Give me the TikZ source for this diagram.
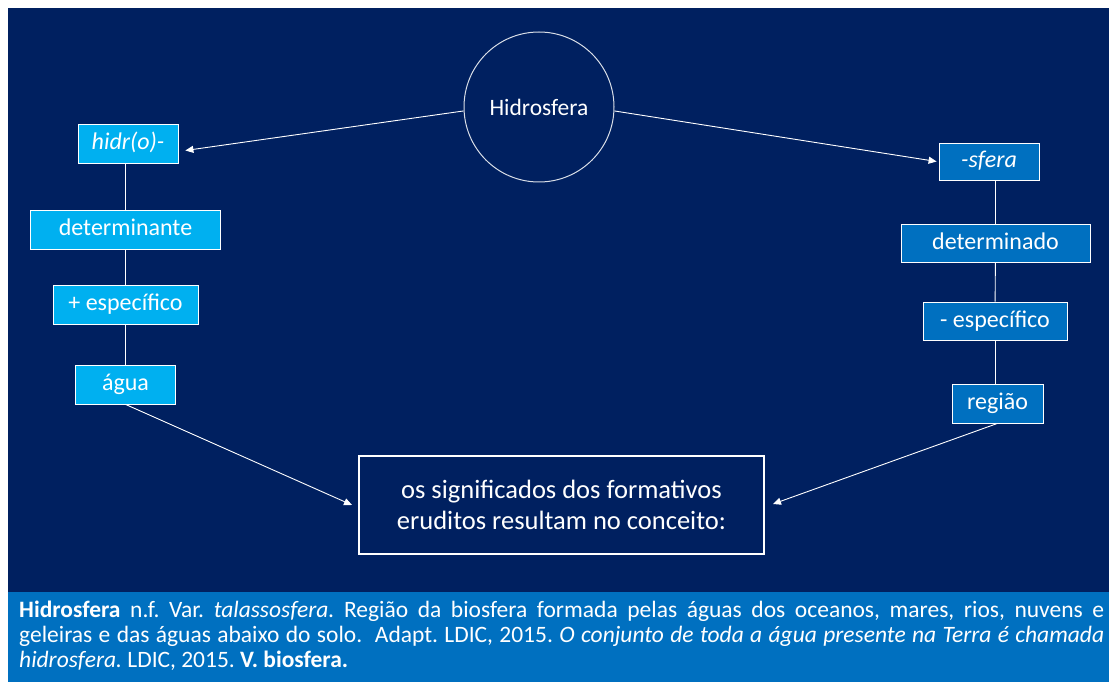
\documentclass[tikz,border=0pt]{standalone}
\usepackage{fontspec}
\setmainfont{Carlito}
\usetikzlibrary{arrows.meta}
\frenchspacing

\begin{document}
\begin{tikzpicture}[x=1pt, y=-1pt, every node/.style={text=white},
  lbox/.style={draw=white, line width=0.8pt, fill=lightblue, minimum height=39pt, inner sep=0pt,
    text height=17pt, text depth=5pt, font=\fontsize{24}{28}\selectfont},
  rbox/.style={lbox, fill=midblue},
  link/.style={white, line width=0.9pt},
  arr/.style={white, line width=0.9pt, -{Triangle[length=8pt, width=7pt]}},
  defline/.style={anchor=base west, inner sep=0pt, font=\fontsize{23.5}{25}\selectfont}]
% Define colors
\definecolor{navy}{RGB}{0,32,96}
\definecolor{lightblue}{RGB}{0,176,240}
\definecolor{midblue}{RGB}{0,112,192}

\useasboundingbox (0,0) rectangle (1109,682);
\fill[white] (0,0) rectangle (1109,682);
\fill[navy] (8,8) rectangle (1109,592);
\fill[midblue] (8,592) rectangle (1109,682);

% Circle
\node[circle, draw=white!85!navy, line width=1pt, minimum size=150pt, inner sep=0pt,
  font=\fontsize{23.5}{28}\selectfont] (circ) at (539,107) {Hidrosfera};

% Left column
\node[lbox, minimum width=100pt] (hidr) at (128,143.5) {\itshape hidr(o)-};
\node[lbox, minimum width=190pt] (detl) at (125.5,229.5) {determinante};
\node[lbox, minimum width=145pt] (espl) at (125.5,304.5) {+ específico};
\node[lbox, minimum width=100pt] (agua) at (125.5,384.5) {água};

% Right column
\node[rbox, minimum width=100pt, minimum height=37pt] (sfera) at (989,161.5) {\itshape -sfera};
\node[rbox, minimum width=189pt, minimum height=38pt] (detr) at (995.5,243) {determinado};
\node[rbox, minimum width=144pt, minimum height=38pt] (espr) at (995,321) {- específico};
\node[rbox, minimum width=91pt] (regiao) at (997.5,403.5) {região};

% Conclusion
\node[draw=white, line width=2pt, minimum width=405pt, minimum height=98pt, align=center,
  font=\fontsize{26.5}{31}\selectfont] (concl) at (561.5,505)
  {os significados dos formativos\\eruditos resultam no conceito:};

% Links
\draw[link] (hidr.south -| detl.north) -- (detl.north);
\draw[link] (detl) -- (espl);
\draw[link] (espl) -- (agua);
\draw[link] (sfera.south -| detr.north) -- (detr.north);
\draw[link] (detr) -- (espr);
\draw[link] (espr.south) -- (espr.south |- regiao.north);

% Arrows
\draw[arr] (circ.183) -- ([shift={(7,7)}]hidr.east);
\draw[arr] (circ.-3) -- ([shift={(-2,0)}]sfera.west);
\draw[arr] (agua.south) -- ([shift={(-6,0)}]concl.west);
\draw[arr] (regiao.south) -- ([shift={(8,-1)}]concl.east);

% Definition
\node[defline] (defA) at (19,617)
  {\makebox[1085pt][s]{\textbf{Hidrosfera} n.f. Var. \textit{talassosfera.} Região da biosfera formada pelas águas dos oceanos, mares, rios, nuvens e}};
\node[defline] (defB) at (19,642)
  {\makebox[1085pt][s]{geleiras e das águas abaixo do solo.\ \ Adapt. LDIC, 2015. \textit{O conjunto de toda a água presente na Terra é chamada}}};
\node[defline] (defC) at (19,667)
  {\textit{hidrosfera.} LDIC, 2015. \textbf{V. biosfera.}};
\end{tikzpicture}
\end{document}
